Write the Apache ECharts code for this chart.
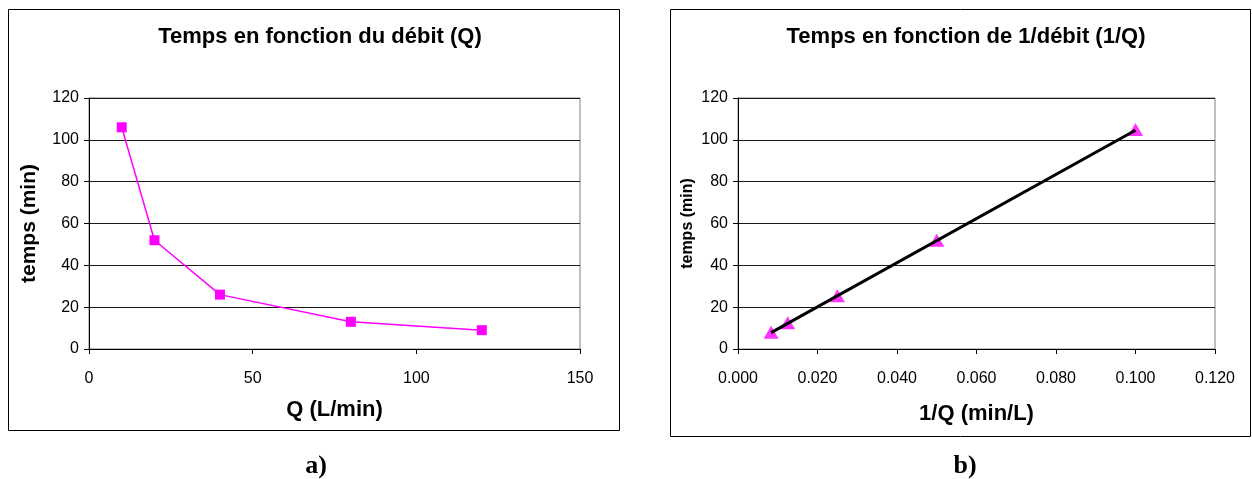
<!DOCTYPE html>
<html>
<head>
<meta charset="utf-8">
<script src="https://cdn.jsdelivr.net/npm/echarts@6/dist/echarts.min.js"></script>
<style>html,body{margin:0;padding:0;background:#fff;}#c{width:1252px;height:479px;}</style>
</head>
<body>
<div id="c"></div>
<script>
// Chart a) : temps vs Q
const debitQ = [10, 20, 40, 80, 120];
const tempsA = [106, 52, 26, 13, 9];
// Chart b) : temps vs 1/Q
const invQ = [0.1, 0.05, 0.025, 0.0125, 0.00833];
const tempsB = [105, 52, 25.5, 12.5, 8];
// Trend line (two ends)
const trendX = [0.00833, 0.1];
const trendY = [7.8, 104.6];

const titleA = 'Temps en fonction du débit (Q)';
const titleB = 'Temps en fonction de 1/débit (1/Q)';

const chart = echarts.init(document.getElementById('c'), null, {renderer: 'canvas'});
const F = 'Liberation Sans, Arial, sans-serif';
const tickFS = 16;

function axisCommon() {
  return {
    axisLine: {show: true, onZero: false, lineStyle: {color: '#000', width: 1}},
    axisTick: {show: true, length: 5, lineStyle: {color: '#000'}},
    nameLocation: 'middle'
  };
}

const option = {
  animation: false,
  backgroundColor: '#fff',
  grid: [
    {left: 89, top: 98, width: 491, height: 251, show: true, borderColor: '#808080', borderWidth: 1, containLabel: false},
    {left: 738, top: 98, width: 477, height: 251, show: true, borderColor: '#808080', borderWidth: 1, containLabel: false}
  ],
  xAxis: [
    Object.assign(axisCommon(), {
      gridIndex: 0, type: 'value', min: 0, max: 150, interval: 50,
      name: 'Q (L/min)', nameGap: 50,
      nameTextStyle: {color: '#000', fontFamily: F, fontWeight: 'bold', fontSize: 22},
      splitLine: {show: false},
      axisLabel: {color: '#000', fontFamily: F, fontSize: tickFS, margin: 22}
    }),
    Object.assign(axisCommon(), {
      gridIndex: 1, type: 'value', min: 0, max: 0.12, interval: 0.02,
      name: '1/Q (min/L)', nameGap: 54,
      nameTextStyle: {color: '#000', fontFamily: F, fontWeight: 'bold', fontSize: 22},
      splitLine: {show: false},
      axisLabel: {color: '#000', fontFamily: F, fontSize: tickFS, margin: 22,
        formatter: v => v.toFixed(3)}
    })
  ],
  yAxis: [
    Object.assign(axisCommon(), {
      gridIndex: 0, type: 'value', min: 0, max: 120, interval: 20,
      name: 'temps (min)', nameGap: 49,
      nameTextStyle: {color: '#000', fontFamily: F, fontWeight: 'bold', fontSize: 21},
      splitLine: {show: true, lineStyle: {color: '#1a1a1a', width: 1}},
      axisLabel: {color: '#000', fontFamily: F, fontSize: tickFS, margin: 10}
    }),
    Object.assign(axisCommon(), {
      gridIndex: 1, type: 'value', min: 0, max: 120, interval: 20,
      name: 'temps (min)', nameGap: 42,
      nameTextStyle: {color: '#000', fontFamily: F, fontWeight: 'bold', fontSize: 16},
      splitLine: {show: true, lineStyle: {color: '#1a1a1a', width: 1}},
      axisLabel: {color: '#000', fontFamily: F, fontSize: tickFS, margin: 10}
    })
  ],
  series: [
    {
      type: 'line', xAxisIndex: 0, yAxisIndex: 0,
      data: debitQ.map((q, i) => [q, tempsA[i]]),
      lineStyle: {color: '#FF00FF', width: 1.5},
      itemStyle: {color: '#FF00FF'},
      symbol: 'rect', symbolSize: 10, showSymbol: true, z: 3
    },
    {
      type: 'scatter', xAxisIndex: 1, yAxisIndex: 1,
      data: invQ.map((x, i) => [x, tempsB[i]]),
      itemStyle: {color: '#FF00FF'},
      symbol: 'triangle', symbolSize: [15, 13], z: 2
    },
    {
      type: 'line', xAxisIndex: 1, yAxisIndex: 1,
      data: trendX.map((x, i) => [x, trendY[i]]),
      lineStyle: {color: '#000', width: 3},
      symbol: 'none', z: 3
    }
  ],
  graphic: [
    {type: 'rect', shape: {x: 8.5, y: 9.5, width: 611, height: 421}, style: {fill: 'none', stroke: '#000', lineWidth: 1}, z: -1},
    {type: 'rect', shape: {x: 670.5, y: 9.5, width: 580, height: 427}, style: {fill: 'none', stroke: '#000', lineWidth: 1}, z: -1},
    {type: 'text', x: 320, y: 37, style: {text: titleA, font: 'bold 22px ' + F, fill: '#000', textAlign: 'center', textVerticalAlign: 'middle'}},
    {type: 'text', x: 966, y: 37, style: {text: titleB, font: 'bold 22px ' + F, fill: '#000', textAlign: 'center', textVerticalAlign: 'middle'}},
    {type: 'text', x: 316, y: 466, style: {text: 'a)', font: 'bold 26px Liberation Serif, Times New Roman, serif', fill: '#000', textAlign: 'center', textVerticalAlign: 'middle'}},
    {type: 'text', x: 965, y: 466, style: {text: 'b)', font: 'bold 26px Liberation Serif, Times New Roman, serif', fill: '#000', textAlign: 'center', textVerticalAlign: 'middle'}}
  ]
};
chart.setOption(option);
</script>
</body>
</html>
